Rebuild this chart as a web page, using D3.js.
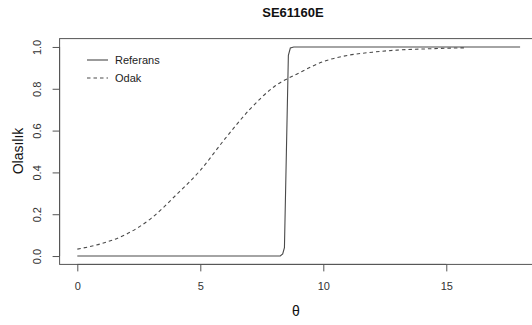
<!DOCTYPE html>
<html>
<head>
<meta charset="utf-8">
<script src="https://cdn.jsdelivr.net/npm/d3@7"></script>
<style>
  body { margin: 0; background: #fff; }
  svg { display: block; font-family: "Liberation Sans", Arial, sans-serif; }
</style>
</head>
<body>
<svg id="chart" width="532" height="325"></svg>
<script>
// item characteristic curves
const refTheta = [0, 8.25, 8.35, 8.42, 8.5, 8.58, 8.66, 8.8, 18];
const refProb  = [0, 0, 0.01, 0.04, 0.5, 0.96, 0.995, 1, 1];

const focTheta = [0, 1, 2, 3, 4, 5, 6, 7, 8, 9, 10, 11, 12, 13, 14, 15, 15.8];
const focProb  = [0.033, 0.06, 0.105, 0.18, 0.29, 0.41, 0.56, 0.70, 0.81, 0.875, 0.93, 0.96, 0.975, 0.985, 0.99, 0.994, 0.996];

const xTicks = [0, 5, 10, 15];
const yTicks = [0, 0.2, 0.4, 0.6, 0.8, 1.0];
const legendLabels = ['Referans', 'Odak'];

const svg = d3.select('#chart');
const ink = '#4a4a4a';

// plot region (R style, 4% padding on both axes)
const pL = 59.6, pR = 537.8, pT = 38.6, pB = 264.4;
const x = d3.scaleLinear().domain([-0.72, 18.72]).range([pL, pR]);
const y = d3.scaleLinear().domain([-0.04, 1.04]).range([pB, pT]);

svg.append('rect').attr('width', 532).attr('height', 325).attr('fill', '#fff');

// title
svg.append('text')
  .attr('x', 293).attr('y', 17)
  .attr('text-anchor', 'middle')
  .style('font-size', '13px').style('font-weight', 'bold').style('fill', '#111')
  .text('SE61160E');

// box
svg.append('rect')
  .attr('x', pL).attr('y', pT)
  .attr('width', pR - pL).attr('height', pB - pT)
  .attr('fill', 'none').attr('stroke', '#555').attr('stroke-width', 1);

// x axis
const gx = svg.append('g')
  .attr('transform', `translate(0,${pB})`)
  .call(d3.axisBottom(x).tickValues(xTicks).tickSize(7).tickPadding(11).tickFormat(d3.format('d')));
gx.select('.domain').attr('stroke', '#555').attr('d', `M${x(0)},0H${x(15)}`);
gx.selectAll('.tick line').attr('stroke', '#555');
gx.selectAll('.tick text').style('font-size', '11px').style('fill', '#333');

// y axis, labels rotated like R's default las=0
const gy = svg.append('g')
  .attr('transform', `translate(${pL},0)`)
  .call(d3.axisLeft(y).tickValues(yTicks).tickSize(7).tickFormat(d3.format('.1f')));
gy.select('.domain').attr('stroke', '#555').attr('d', `M0,${y(0)}V${y(1)}`);
gy.selectAll('.tick line').attr('stroke', '#555');
gy.selectAll('.tick text')
  .attr('x', 0).attr('y', -22.6).attr('dy', '0.35em')
  .attr('transform', 'rotate(-90)')
  .attr('text-anchor', 'middle')
  .style('font-size', '11px').style('fill', '#333');

// axis titles
svg.append('text')
  .attr('x', 296).attr('y', 316)
  .attr('text-anchor', 'middle')
  .style('font-size', '14px').style('fill', '#111')
  .text('θ');

svg.append('text')
  .attr('transform', 'translate(23,151) rotate(-90)')
  .attr('text-anchor', 'middle')
  .style('font-size', '14px').style('fill', '#111')
  .text('Olasılık');

// curves
const line = d3.line().x(d => x(d[0])).y(d => y(d[1]));

svg.append('path')
  .datum(refTheta.map((t, i) => [t, refProb[i]]))
  .attr('d', line)
  .attr('fill', 'none').attr('stroke', ink).attr('stroke-width', 1.1);

svg.append('path')
  .datum(focTheta.map((t, i) => [t, focProb[i]]))
  .attr('d', d3.line().curve(d3.curveMonotoneX).x(d => x(d[0])).y(d => y(d[1])))
  .attr('fill', 'none').attr('stroke', ink).attr('stroke-width', 1.1)
  .attr('stroke-dasharray', '3.5,3');

// legend (no box)
const leg = svg.append('g');
legendLabels.forEach((lab, i) => {
  const ly = 60 + i * 18;
  leg.append('line')
    .attr('x1', 87).attr('x2', 108).attr('y1', ly).attr('y2', ly)
    .attr('stroke', ink).attr('stroke-width', 1.1)
    .attr('stroke-dasharray', i === 1 ? '3.5,3' : null);
  leg.append('text')
    .attr('x', 115).attr('y', ly).attr('dy', '0.35em')
    .style('font-size', '11px').style('fill', '#222')
    .text(lab);
});
</script>
</body>
</html>
